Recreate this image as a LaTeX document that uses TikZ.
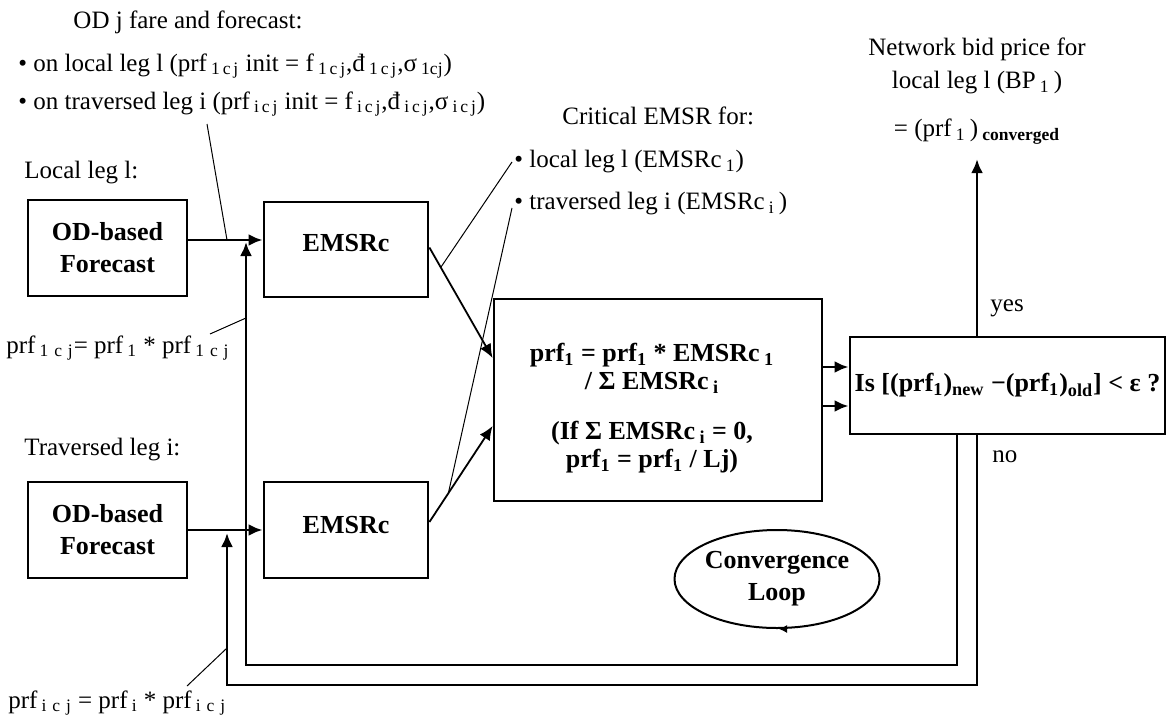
\documentclass[tikz,border=0pt]{standalone}
\usepackage{fontspec}
\setmainfont{Liberation Serif}
\usetikzlibrary{shapes.geometric,calc,arrows.meta}
\newcommand\lsub[1]{\,\textsubscript{#1}}

\begin{document}
\begin{tikzpicture}[x=0.5pt, y=-0.5pt]
    \tikzset{>={Latex[length=7pt,width=6pt]}}
    \tikzset{
      box/.style={draw, line width=1.4pt, align=center, inner sep=0pt,
        font=\fontsize{13}{16}\selectfont\bfseries},
      txt/.style={inner sep=1pt, align=center, font=\fontsize{12.5}{16.5}\selectfont},
      flow/.style={line width=1.4pt},
      feed/.style={line width=0.9pt},
      lead/.style={line width=0.5pt}
    }
    \useasboundingbox (0,0) rectangle (1170,717);

    % forecast and EMSRc boxes
    \node [box, minimum width=79.5pt, minimum height=48pt] (fc1) at (107.5,248) {OD-based\\Forecast};
    \node [box, minimum width=82pt, minimum height=47.5pt] (em1) at (346,249.5) {};
    \node [box, draw=none] (em1t) at (346,243) {EMSRc};
    \node [box, minimum width=79.5pt, minimum height=48pt] (fc2) at (107.5,530) {OD-based\\Forecast};
    \node [box, minimum width=82pt, minimum height=48pt] (em2) at (346,530) {};
    \node [box, draw=none] (em2t) at (346,525) {EMSRc};
    \node [box, minimum width=164pt, minimum height=101pt] (cen) at (658,400) {};
    \node [box, draw=none, font=\fontsize{13}{14}\selectfont\bfseries] (cent) at (652,408)
      {prf\textsubscript{1} = prf\textsubscript{1} * EMSRc\,\textsubscript{1}\\
       / Σ EMSRc\,\textsubscript{i}\\[11pt]
       (If Σ EMSRc\,\textsubscript{i} = 0,\\
       prf\textsubscript{1} = prf\textsubscript{1} / Lj)};
    \node [box, minimum width=157.5pt, minimum height=48.5pt] (dec) at (1007.5,385.5)
      {Is [(prf\textsubscript{1})\textsubscript{new} −(prf\textsubscript{1})\textsubscript{old}] < ε ?};
    \node [box, ellipse, line width=1pt, minimum width=102.5pt, minimum height=49pt] (cl) at (777,579)
      {Convergence\\Loop};

    % texts
    \node [txt] (ttl) at (188,22) {OD j fare and forecast:};
    \node [txt, right] (odl) at (16,66) {\textbullet\ on local leg l (prf\lsub{1\,c\,j} init = f\lsub{1\,c\,j},đ\lsub{1\,c\,j},σ\lsub{1cj})};
    \node [txt, right] (odi) at (16,104) {\textbullet\ on traversed leg i (prf\lsub{i\,c\,j} init = f\lsub{i\,c\,j},đ\lsub{i\,c\,j},σ\lsub{i\,c\,j})};
    \node [txt, right] (loc) at (22,173) {Local leg l:};
    \node [txt, right] (trv) at (22,450) {Traversed leg i:};
    \node [txt, right] (pr1) at (4,348) {prf\lsub{1\,\,c\,\,j}= prf\lsub{1} * prf\lsub{1\,\,c\,\,j}};
    \node [txt, right] (pri) at (6,703) {prf\lsub{i\,\,c\,\,j} = prf\lsub{i} * prf\lsub{i\,\,c\,\,j}};
    \node [txt, right] (crt) at (560,116) {Critical EMSR for:};
    \node [txt, right] (cl1) at (512,162) {\textbullet\ local leg l (EMSRc\lsub{1})};
    \node [txt, right] (cli) at (512,204) {\textbullet\ traversed leg i (EMSRc\lsub{i}\,)};
    \node [txt] (bid) at (977,66) {Network bid price for\\local leg l (BP\lsub{1}\,)};
    \node [txt] (cvg) at (977,132) {= (prf\lsub{1}\,)\,\textsubscript{\bfseries converged}};
    \node [txt, right] (yes) at (988,308) {yes};
    \node [txt, right] (no) at (990,457) {no};

    % junctions and loop corners
    \coordinate (ju1) at (227,240);
    \coordinate (tk1) at (207,124);
    \coordinate (tk2) at (210,334);
    \coordinate (ju2) at (246,318);
    \coordinate (tk3) at (187,686);
    \coordinate (ju3) at (227,648);
    \coordinate (lpA) at (957,665);
    \coordinate (upA) at (246,242);
    \coordinate (lpB) at (977,685);
    \coordinate (upB) at (227,533);

    % flows
    \draw [flow, ->] ([yshift=4pt]fc1.east) -- (em1.west |- ju1);
    \draw [flow, ->] (fc2.east) -- (em2.west);
    \draw [flow, ->] (dec.south -| lpA) -- (lpA) -- (upA |- lpA) -- (upA);
    \draw [flow, ->] (dec.south -| lpB) -- (lpB) -- (upB |- lpB) -- (upB);
    \draw [flow, ->] (dec.north -| lpB) -- ([yshift=-6pt]cvg.south);
    \draw [feed, ->] ([yshift=1pt]em1.east) -- ([yshift=21pt]cen.west);
    \draw [feed, ->] ([yshift=4pt]em2.east) -- ([yshift=-13pt]cen.west);
    \draw [flow, ->] ([yshift=16.5pt]cen.east) -- ([yshift=9.25pt]dec.west);
    \draw [flow, ->] ([yshift=-3pt]cen.east) -- ([yshift=-10.25pt]dec.west);
    \draw [-{Latex[length=4pt,width=4pt]}, line width=0.6pt] ([xshift=4pt]cl.south) -- ([xshift=1pt]cl.south);

    % leaders
    \draw [lead] (tk1) -- (ju1);
    \draw [lead] (tk2) -- (ju2);
    \draw [lead] (tk3) -- (ju3);
    \draw [lead] ($([yshift=1pt]em1.east)!0.18!([yshift=21pt]cen.west)$) -- (cl1.west);
    \draw [lead] ($([yshift=4pt]em2.east)!0.3!([yshift=-13pt]cen.west)$) -- ([yshift=-2pt]cli.west);
\end{tikzpicture}
\end{document}
